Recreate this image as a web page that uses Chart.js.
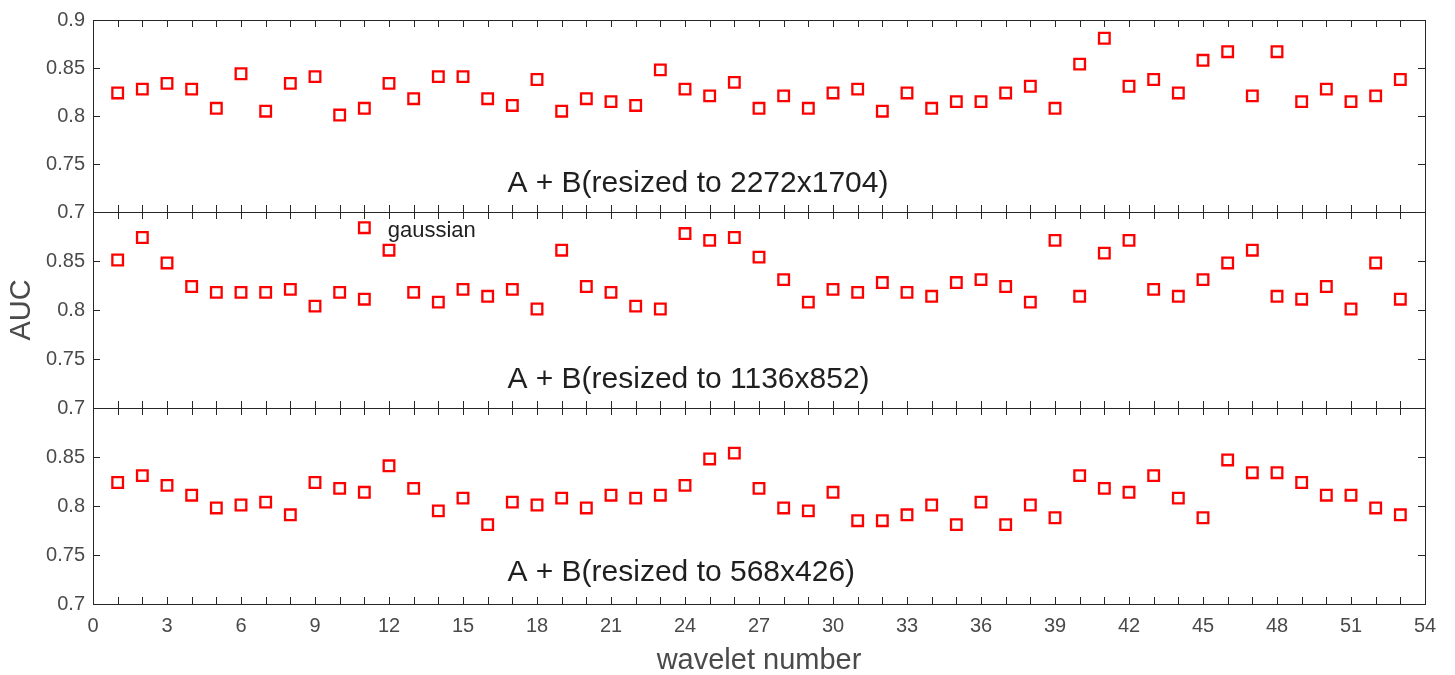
<!DOCTYPE html>
<html>
<head>
<meta charset="utf-8">
<script src="https://cdn.jsdelivr.net/npm/chart.js@4.4.1/dist/chart.umd.min.js"></script>
<style>
  html, body { margin: 0; padding: 0; background: #fff; }
  #wrap { position: relative; width: 1455px; height: 675px; }
  #wrap canvas { position: absolute; left: 0; top: 0; }
</style>
</head>
<body>
<div id="wrap">
  <canvas id="panel1" width="1455" height="675"></canvas>
  <canvas id="panel2" width="1455" height="675"></canvas>
  <canvas id="panel3" width="1455" height="675"></canvas>
</div>
<script>
// wavelet numbers on the x axis
const waveletNumbers = [1,2,3,4,5,6,7,8,9,10,11,12,13,14,15,16,17,18,19,20,21,22,23,24,25,26,27,
  28,29,30,31,32,33,34,35,36,37,38,39,40,41,42,43,44,45,46,47,48,49,50,51,52,53];

// AUC per wavelet, one array per resize
const auc2272 = [0.824,0.828,0.834,0.828,0.808,0.844,0.805,0.834,0.841,0.801,0.808,0.834,0.818,0.841,
  0.841,0.818,0.811,0.838,0.805,0.818,0.815,0.811,0.848,0.828,0.821,0.835,0.808,0.821,0.808,0.824,
  0.828,0.805,0.824,0.808,0.815,0.815,0.824,0.831,0.808,0.854,0.881,0.831,0.838,0.824,0.858,0.867,
  0.821,0.867,0.815,0.828,0.815,0.821,0.838];
const auc1136 = [0.851,0.874,0.848,0.824,0.818,0.818,0.818,0.821,0.804,0.818,0.811,0.861,0.818,0.808,
  0.821,0.814,0.821,0.801,0.861,0.824,0.818,0.804,0.801,0.878,0.871,0.874,0.854,0.831,0.808,0.821,
  0.818,0.828,0.818,0.814,0.828,0.831,0.824,0.808,0.871,0.814,0.858,0.871,0.821,0.814,0.831,0.848,
  0.861,0.814,0.811,0.824,0.801,0.848,0.811];
const auc568 = [0.824,0.831,0.821,0.811,0.798,0.801,0.804,0.791,0.824,0.818,0.814,0.841,0.818,0.795,
  0.808,0.781,0.804,0.801,0.808,0.798,0.811,0.808,0.811,0.821,0.848,0.854,0.818,0.798,0.795,0.814,
  0.785,0.785,0.791,0.801,0.781,0.804,0.781,0.801,0.788,0.831,0.818,0.814,0.831,0.808,0.788,0.847,
  0.834,0.834,0.824,0.811,0.811,0.798,0.791];

// extra point with the "gaussian" note (middle panel)
const gaussianWavelet = [11];
const gaussianAuc = [0.884];
const gaussianNote = 'gaussian';

const yTickLabels = ['0.7', '0.75', '0.8', '0.85', '0.9'];
const xTickLabels = ['0','3','6','9','12','15','18','21','24','27','30','33','36','39','42','45','48','51','54'];

const panelTitles = ['A + B(resized to 2272x1704)', 'A + B(resized to 1136x852)', 'A + B(resized to 568x426)'];
const panelTitleX = 16.8;
const panelTitleY = [0.7205, 0.7205, 0.7235];

const FONT = '"Liberation Sans", Arial, Helvetica, sans-serif';
const AXIS_COLOR = '#262626';
const TICK_COLOR = '#4a4a4a';

function toPoints(xs, ys) {
  return xs.map((x, i) => ({ x: x, y: ys[i] }));
}

function yLabel(value) {
  const hit = yTickLabels.find(l => Math.abs(Number(l) - value) < 1e-6);
  return hit === undefined ? '' : hit;
}

// box + inward tick marks like the original figure
const frameTicks = {
  id: 'frameTicks',
  afterDatasetsDraw(chart) {
    const { ctx, chartArea: a, scales } = chart;
    const xs = scales.x, ys = scales.y;
    const len = 7;
    const px = v => Math.round(v) + 0.5;
    ctx.save();
    ctx.strokeStyle = AXIS_COLOR;
    ctx.lineWidth = 1;
    ctx.beginPath();
    for (let v = xs.min; v <= xs.max; v++) {
      const x = px(xs.getPixelForValue(v));
      ctx.moveTo(x, a.top); ctx.lineTo(x, a.top + len);
      ctx.moveTo(x, a.bottom); ctx.lineTo(x, a.bottom - len);
    }
    ys.ticks.forEach(t => {
      const y = px(ys.getPixelForValue(t.value));
      ctx.moveTo(a.left, y); ctx.lineTo(a.left + len, y);
      ctx.moveTo(a.right, y); ctx.lineTo(a.right - len, y);
    });
    ctx.stroke();
    ctx.strokeRect(px(a.left), px(a.top), Math.round(a.right - a.left), Math.round(a.bottom - a.top));
    ctx.restore();
  }
};

// panel texts placed in data coordinates
const panelText = {
  id: 'panelText',
  afterDraw(chart, args, opts) {
    const { ctx, scales } = chart;
    ctx.save();
    ctx.fillStyle = '#1f1f1f';
    ctx.textBaseline = 'alphabetic';
    ctx.textAlign = 'left';
    (opts.items || []).forEach(it => {
      ctx.font = it.size + 'px ' + FONT;
      ctx.fillText(it.text, scales.x.getPixelForValue(it.x), scales.y.getPixelForValue(it.y));
    });
    ctx.restore();
  }
};

function makePanel(id, datasets, items, top, bottom, showX, yTitle, hideTop) {
  const ctx = document.getElementById(id).getContext('2d');
  const config = {
    type: 'scatter',
    data: { datasets: datasets },
    options: {
      responsive: false,
      animation: false,
      events: [],
      layout: { padding: { left: 0, right: 30, top: top, bottom: bottom } },
      plugins: {
        legend: { display: false },
        tooltip: { enabled: false },
        panelText: { items: items }
      },
      scales: {
        x: {
          type: 'linear',
          min: 0,
          max: 54,
          display: showX,
          grid: { display: false, drawTicks: false },
          border: { display: false },
          ticks: {
            stepSize: 3,
            padding: 10,
            maxRotation: 0,
            autoSkip: false,
            color: TICK_COLOR,
            font: { family: FONT, size: 20 },
            callback: (v) => xTickLabels.find(l => Number(l) === v) || ''
          },
          title: {
            display: showX,
            text: 'wavelet number',
            color: TICK_COLOR,
            font: { family: FONT, size: 29, lineHeight: 1 },
            padding: 0
          },
          afterFit(s) { if (showX) s.height = 71; }
        },
        y: {
          min: 0.7,
          max: 0.9,
          grid: { display: false, drawTicks: false },
          border: { display: false },
          ticks: {
            stepSize: 0.05,
            padding: 8,
            color: TICK_COLOR,
            font: { family: FONT, size: 20 },
            callback: (v) => (hideTop && Math.abs(v - 0.9) < 1e-6) ? '' : yLabel(v)
          },
          title: {
            display: !!yTitle,
            text: yTitle || '',
            color: TICK_COLOR,
            font: { family: FONT, size: 29, lineHeight: 1.2 },
            padding: { top: 5, bottom: 0 }
          },
          afterFit(s) { s.width = 93; }
        }
      }
    },
    plugins: [frameTicks, panelText]
  };
  return new Chart(ctx, config);
}

function markerSet(points) {
  return {
    data: points,
    pointStyle: 'rect',
    pointRadius: 7.5,
    pointBorderWidth: 2.3,
    borderColor: '#ff0000',
    backgroundColor: '#ffffff'
  };
}

makePanel('panel1', [markerSet(toPoints(waveletNumbers, auc2272))],
  [{ text: panelTitles[0], x: panelTitleX, y: panelTitleY[0], size: 30 }],
  16, 675 - 212, false, null, false);

makePanel('panel2', [markerSet(toPoints(waveletNumbers, auc1136)), markerSet(toPoints(gaussianWavelet, gaussianAuc))],
  [{ text: panelTitles[1], x: panelTitleX, y: panelTitleY[1], size: 30 },
   { text: gaussianNote, x: 11.95, y: 0.8745, size: 22 }],
  212, 675 - 408, false, 'AUC', true);

makePanel('panel3', [markerSet(toPoints(waveletNumbers, auc568))],
  [{ text: panelTitles[2], x: panelTitleX, y: panelTitleY[2], size: 30 }],
  408, 0, true, null, true);
</script>
</body>
</html>
